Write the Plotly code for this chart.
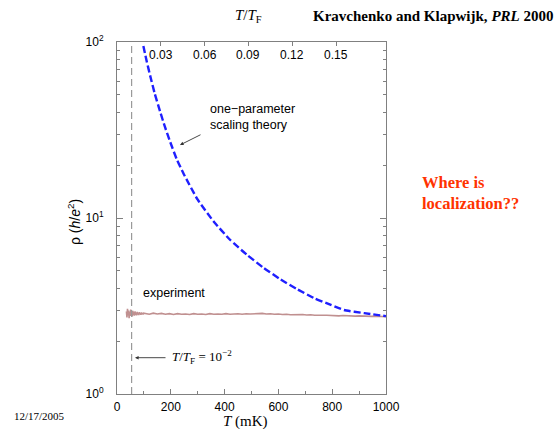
import plotly.graph_objects as go

# ---- data ----
T_F = 5430.0  # mK, Fermi temperature used for top axis
theory_T = [98, 110, 123, 140, 160, 178, 198, 222, 248, 300, 360, 421, 483, 545, 608, 670, 732, 795, 844, 919, 1000]
theory_rho = [94.8, 78.2, 64.6, 51.1, 40.4, 33.0, 27.0, 21.6, 17.8, 12.7, 9.53, 7.50, 6.18, 5.21, 4.48, 3.94, 3.51, 3.21, 3.00, 2.88, 2.77]

exp_T = [35, 37, 39, 41, 43, 45, 47, 49, 51, 53, 55, 57, 59, 61, 63, 65, 67, 69, 71, 73, 75,
         77, 79, 81, 83, 85, 87, 89, 91, 93, 95, 97, 99,
         105, 120, 135, 150, 165, 180, 195, 210, 225, 240, 255, 270, 285, 300, 315, 330, 345,
         360, 375, 390, 405, 420, 435, 450, 465, 480, 495, 510, 525, 540, 555, 570, 585, 600,
         615, 630, 645, 660, 675, 690, 705, 720, 735, 750, 765, 780, 795, 810, 825, 840, 855,
         870, 885, 900, 915, 930, 945, 960, 975, 990, 1000]
exp_rho = [2.95, 2.72, 3.05, 2.80, 2.98, 2.70, 2.93, 2.78, 3.02, 2.83, 2.91, 2.76, 2.97, 2.81,
           2.92, 2.79, 2.95, 2.82, 2.90, 2.80, 2.93, 2.83, 2.89, 2.81, 2.92, 2.84, 2.88, 2.82,
           2.91, 2.84, 2.89, 2.83, 2.88,
           2.87, 2.84, 2.88, 2.85, 2.87, 2.84, 2.86, 2.83, 2.86, 2.84, 2.85, 2.83, 2.86, 2.84,
           2.85, 2.83, 2.86, 2.84, 2.85, 2.84, 2.86, 2.84, 2.85, 2.86, 2.84, 2.86, 2.85, 2.86,
           2.85, 2.87, 2.85, 2.86, 2.84, 2.85, 2.83, 2.84, 2.82, 2.83, 2.82, 2.83, 2.81, 2.82,
           2.80, 2.81, 2.80, 2.80, 2.79, 2.80, 2.78, 2.79, 2.78, 2.78, 2.77, 2.78, 2.77, 2.77,
           2.76, 2.77, 2.76, 2.76, 2.75]

loc_ratio = [0.01, 0.01]          # T/T_F = 10^-2 marker line
loc_rho = [1, 100]

x_ticks = [0, 200, 400, 600, 800, 1000]
x_ticktext = ["0", "200", "400", "600", "800", "1000"]
x_minor = [100, 300, 500, 700, 900]
top_ticks = [0.03, 0.06, 0.09, 0.12, 0.15]
top_ticktext = ["0.03", "0.06", "0.09", "0.12", "0.15"]
y_ticks = [1, 10, 100]
y_ticktext = ["10<sup>0</sup>", "10<sup>1</sup>", "10<sup>2</sup>"]
y_minor = [2, 3, 4, 5, 6, 7, 8, 9, 20, 30, 40, 50, 60, 70, 80, 90]

SANS = "Liberation Sans"
SERIF = "Liberation Serif"
AX = "#808080"

fig = go.Figure()
fig.add_trace(go.Scatter(x=loc_ratio, y=loc_rho, xaxis="x2", yaxis="y", mode="lines",
                         line=dict(color="#9a9a9a", width=1.2, dash="7px,4px"),
                         showlegend=False, hoverinfo="skip"))
fig.add_trace(go.Scatter(x=exp_T, y=exp_rho, mode="lines",
                         line=dict(color="#c09090", width=1.6),
                         showlegend=False))
fig.add_trace(go.Scatter(x=theory_T, y=theory_rho, mode="lines",
                         line=dict(color="#1f1fff", width=2.4, dash="7px,3px",
                                   shape="spline", smoothing=0.5),
                         showlegend=False))

W0, H0 = 269, 352
L, T0 = 117, 42
def px(x, y):
    return (x - L) / W0, (T0 + H0 - y) / H0

fig.update_layout(
    width=560, height=429,
    margin=dict(l=L, r=560 - L - W0, t=T0, b=429 - T0 - H0),
    paper_bgcolor="white", plot_bgcolor="white",
    showlegend=False,
    xaxis=dict(range=[0, 1000], tickvals=x_ticks, ticktext=x_ticktext,
               ticks="inside", ticklen=5, tickcolor=AX, showline=True, linecolor=AX,
               linewidth=1, showgrid=False, zeroline=False,
               minor=dict(tickvals=x_minor, ticks="inside", ticklen=3, tickcolor=AX),
               tickfont=dict(family=SANS, size=12, color="black"), ticklabelstandoff=2),
    xaxis2=dict(overlaying="x", side="top", range=[0, 1000 / T_F],
                tickvals=top_ticks, ticks="inside", ticklen=4,
                tickcolor=AX, showline=True, linecolor=AX, linewidth=1, showgrid=False,
                zeroline=False, showticklabels=False),
    yaxis=dict(type="log", range=[0, 2], tickvals=y_ticks, ticktext=y_ticktext,
               ticks="inside", ticklen=6, tickcolor=AX, showline=True, linecolor=AX,
               linewidth=1, mirror="ticks", showgrid=False, zeroline=False,
               minor=dict(tickvals=y_minor, ticks="inside", ticklen=3, tickcolor=AX),
               tickfont=dict(family=SANS, size=12, color="black"), ticklabelstandoff=10),
)

ann = []
# top-axis tick labels (inside, below the top frame)
for v, s in zip(top_ticks, top_ticktext):
    ann.append(dict(x=v, y=1, xref="x2", yref="paper", text=s, showarrow=False,
                    xanchor="center", yanchor="top", yshift=-4,
                    font=dict(family=SANS, size=12, color="black")))

def text(x, y, s, font, xanchor="left", yanchor="middle", **kw):
    px_, py_ = px(x, y)
    ann.append(dict(x=px_, y=py_, xref="paper", yref="paper", text=s, showarrow=False,
                    xanchor=xanchor, yanchor=yanchor, font=font, **kw))

text(248, 16, "<i>T</i>/<i>T</i><sub>F</sub>", dict(family=SERIF, size=15, color="black"), xanchor="center")
text(311, 16, "<b>Kravchenko and Klapwijk, <i>PRL</i> 2000</b>", dict(family=SERIF, size=15, color="black"))
text(420, 192.5, "<b>Where is<br>localization??</b>", dict(family=SERIF, size=16.5, color="#ff3300"), align="left")
text(12, 416, "12/17/2005", dict(family=SERIF, size=11, color="black"))
text(245, 421, "<i>T</i> (mK)", dict(family=SERIF, size=15, color="black"), xanchor="center")
text(74, 222, "ρ (<i>h</i>/<i>e</i><sup>2</sup>)", dict(family=SANS, size=14, color="black"),
     xanchor="center", textangle=-90)
text(208, 116.5, "one−parameter<br>scaling theory", dict(family=SANS, size=12.5, color="black"), align="left")
text(141, 292.7, "experiment", dict(family=SANS, size=12.5, color="black"))
text(170, 357, "<i>T</i>/<i>T</i><sub>F</sub> = 10<sup>−2</sup>", dict(family=SERIF, size=13, color="black"))

# arrows
for (tx, ty, axp, ayp) in [(180, 145, 22, -11), (135, 357.7, 32, 0)]:
    qx, qy = px(tx, ty)
    ann.append(dict(x=qx, y=qy, xref="paper", yref="paper", text="", showarrow=True,
                    ax=axp, ay=ayp, arrowhead=2, arrowsize=0.8, arrowwidth=0.9,
                    arrowcolor="#333333"))

fig.update_layout(annotations=ann)
fig.write_html("out.html")
